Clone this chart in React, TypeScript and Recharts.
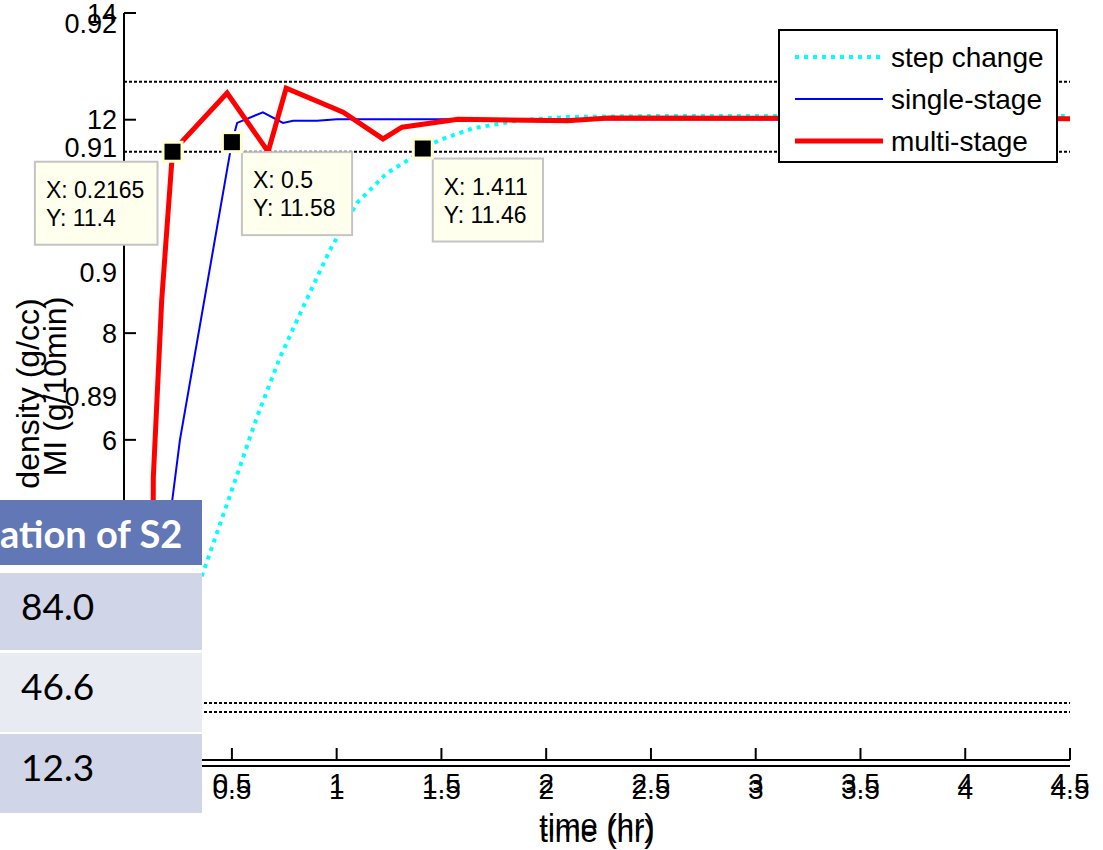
import React from "react";
import { LineChart, Line, XAxis, YAxis, ReferenceLine, ReferenceDot, Legend, Label } from "recharts";

// ---- values (time in hr, MI in g/10min) ----
const xTicks = [0, 0.5, 1, 1.5, 2, 2.5, 3, 3.5, 4, 4.5];
const miTicksLeft = [6, 8, 12, 14];
const miTicksFrame = [0, 2, 4, 6, 8, 10, 12, 14];
const densityTicks = [0.89, 0.9, 0.91, 0.92];

const stepTime = [0, 0.1, 0.25, 0.372, 0.505, 0.62, 0.73, 0.84, 0.968, 1.097, 1.24, 1.364, 1.411, 1.493, 1.651, 1.875, 2.1, 2.496, 4.5];
const stepMI = [1, 1, 2.3, 3.62, 5.12, 6.43, 7.55, 8.49, 9.56, 10.44, 11.0, 11.3, 11.46, 11.62, 11.84, 11.99, 12.05, 12.07, 12.07];

const singleTime = [0, 0.09, 0.252, 0.5, 0.525, 0.648, 0.744, 0.792, 0.906, 1.002, 4.5];
const singleMI = [1, 1, 6.0, 11.58, 11.94, 12.14, 11.94, 11.98, 11.98, 12.01, 12.0];

const multiTime = [0, 0.12, 0.125, 0.165, 0.2165, 0.477, 0.673, 0.759, 1.031, 1.221, 1.312, 1.579, 2.1, 2.3, 4.5];
const multiMI = [1, 1, 5.3, 8.62, 11.4, 12.5, 11.4, 12.59, 12.14, 11.64, 11.86, 12.01, 11.98, 12.03, 12.02];

// dotted spec limits (MI)
const specLimits = [12.71, 11.4, 1.07, 0.9];

// data tips
const tipTime = [0.2165, 0.5, 1.411];
const tipMI = [11.4, 11.58, 11.46];

const seriesNames = ["step change", "single-stage", "multi-stage"];

const xTitle = "time (hr)";
const miTitle = "MI (g/10min)";
const densityTitle = "density (g/cc)";

// the pasted table fragment on the left
const tableHeader = "ation of S2";
const tableValues = ["84.0", "46.6", "12.3"];

// ---- layout ----
const W = 1103;
const H = 850;
const DEN_W = 44;
const MI_W = 80;
const X_GAP = 13;
const Y_GAP = 7;
const FONT = "'Liberation Sans', Arial, Helvetica, sans-serif";
const axisStroke = { stroke: "#000", strokeWidth: 2 };

const toPoints = (xs: number[], ys: number[]) => xs.map((x, i) => ({ x, y: ys[i] }));
const stepData = toPoints(stepTime, stepMI);
const singleData = toPoints(singleTime, singleMI);
const multiData = toPoints(multiTime, multiMI);

const seriesStyle = [
  { stroke: "#00ffff", strokeWidth: 4, dash: "4 5" },
  { stroke: "#0000ff", strokeWidth: 2, dash: undefined },
  { stroke: "#ff0000", strokeWidth: 5, dash: undefined },
];
const tipSide = ["left", "right", "right"];

type TickProps = { x?: number; y?: number; payload?: { value: number } };

const bottomTick = (withLine: boolean) => ({ x = 0, y = 0, payload }: TickProps) => (
  <g>
    {withLine && (
      <line x1={x} x2={x} y1={y - X_GAP} y2={y - X_GAP - 12} stroke="#000" strokeWidth={2} />
    )}
    <text x={x} y={y} dy="0.71em" textAnchor="middle" fontSize={28} fontFamily={FONT} fill="#000">
      {payload?.value}
    </text>
  </g>
);

const topTick = ({ x = 0, y = 0 }: TickProps) => (
  <line x1={x} x2={x} y1={y} y2={y + 9} stroke="#000" strokeWidth={2} />
);

const rightTick = ({ x = 0, y = 0 }: TickProps) => (
  <line x1={x} x2={x - 10} y1={y} y2={y} stroke="#000" strokeWidth={2} />
);

const leftTick = (shift: number, withLine: boolean) => ({ x = 0, y = 0, payload }: TickProps) => (
  <g>
    {withLine && (
      <line x1={x + shift + Y_GAP} x2={x + shift + Y_GAP + 12} y1={y} y2={y} stroke="#000" strokeWidth={2} />
    )}
    <text x={x + shift} y={y} dy="0.36em" textAnchor="end" fontSize={27} fontFamily={FONT} fill="#000">
      {payload?.value}
    </text>
  </g>
);

const timeLabel = (props: any) => {
  const vb = props.viewBox;
  return (
    <text x={vb.x + vb.width / 2} y={vb.y + 76} textAnchor="middle" fontSize={31} fontFamily={FONT} fill="#000">
      {xTitle}
    </text>
  );
};

const sideLabel = (text: string, dx: number, dy: number) => (props: any) => {
  const vb = props.viewBox;
  const cx = vb.x + dx;
  const cy = vb.y + vb.height / 2 + dy;
  return (
    <text x={cx} y={cy} transform={`rotate(-90 ${cx} ${cy})`} textAnchor="middle" fontSize={32} fontFamily={FONT} fill="#000">
      {text}
    </text>
  );
};

const DataTip = ({ cx = 0, cy = 0, idx }: { cx?: number; cy?: number; idx: number }) => {
  const lines = [`X: ${tipTime[idx]}`, `Y: ${tipMI[idx]}`];
  const w = Math.max(...lines.map((l) => l.length)) * 12.4 + 11;
  const bx = tipSide[idx] === "left" ? cx - 15 - w : cx + 10;
  const by = cy + 10;
  return (
    <g>
      <rect x={bx} y={by} width={w} height={83} fill="#ffffee" stroke="#c4c4c4" strokeWidth={2} />
      <text x={bx + 11} y={by + 36} fontSize={23} fontFamily={FONT} fill="#000">{lines[0]}</text>
      <text x={bx + 11} y={by + 64} fontSize={23} fontFamily={FONT} fill="#000">{lines[1]}</text>
      <rect x={cx - 11} y={cy - 11} width={22} height={22} fill="#ffffd2" />
      <rect x={cx - 8} y={cy - 8} width={16} height={16} fill="#000" />
    </g>
  );
};

const renderLegend = () => (
  <div style={{ width: 280, height: 134, boxSizing: "border-box", border: "2px solid #000", background: "#fff" }}>
    <svg width={276} height={130} style={{ display: "block" }}>
      {seriesNames.map((name, i) => (
        <g key={name}>
          <line
            x1={15}
            x2={103}
            y1={26 + 42 * i}
            y2={26 + 42 * i}
            stroke={seriesStyle[i].stroke}
            strokeWidth={seriesStyle[i].strokeWidth}
            strokeDasharray={seriesStyle[i].dash}
          />
          <text x={111} y={26 + 42 * i} dy="0.36em" fontSize={28} fontFamily={FONT} fill="#000">
            {name}
          </text>
        </g>
      ))}
    </svg>
  </div>
);

const rowBg = ["#d0d5e7", "#e9ebf3", "#d0d5e7"];
const rowH = [77, 79, 79];
const rowGap = [8, 3, 2];

export default function App() {
  return (
    <div style={{ position: "absolute", left: 0, top: 0, width: W, height: H, background: "#fff", overflow: "hidden", fontFamily: FONT }}>
      <LineChart width={W} height={H} margin={{ top: 13, right: 33, bottom: 0, left: 0 }}>
        <XAxis
          xAxisId="a"
          type="number"
          dataKey="x"
          domain={[-0.015, 4.5]}
          allowDataOverflow
          ticks={xTicks}
          height={6}
          tickSize={0}
          tickMargin={X_GAP}
          tickLine={false}
          axisLine={axisStroke}
          tick={bottomTick(true)}
        >
          <Label content={timeLabel} />
        </XAxis>
        <XAxis
          xAxisId="b"
          type="number"
          dataKey="x"
          domain={[-0.015, 4.5]}
          allowDataOverflow
          ticks={xTicks}
          height={84}
          tickSize={0}
          tickMargin={X_GAP}
          tickLine={false}
          axisLine={axisStroke}
          tick={bottomTick(false)}
        >
          <Label content={timeLabel} />
        </XAxis>
        <XAxis
          xAxisId="top"
          orientation="top"
          type="number"
          dataKey="x"
          domain={[-0.015, 4.5]}
          allowDataOverflow
          ticks={xTicks}
          height={0}
          tickSize={0}
          tickMargin={0}
          tickLine={false}
          axisLine={axisStroke}
          tick={topTick}
        />
        <YAxis
          yAxisId="l1"
          type="number"
          domain={[0, 14]}
          allowDataOverflow
          ticks={miTicksLeft}
          width={MI_W}
          tickSize={0}
          tickMargin={Y_GAP}
          tickLine={false}
          axisLine={axisStroke}
          tick={leftTick(0, true)}
        >
          <Label content={sideLabel(miTitle, 21.5, 0)} />
        </YAxis>
        <YAxis
          yAxisId="l2"
          type="number"
          domain={[0.8607, 0.92085]}
          allowDataOverflow
          ticks={densityTicks}
          width={DEN_W}
          tickSize={0}
          tickMargin={Y_GAP}
          tickLine={false}
          axisLine={false}
          tick={leftTick(MI_W, false)}
        >
          <Label content={sideLabel(densityTitle, 38.5, 7)} />
        </YAxis>
        <YAxis
          yAxisId="r1"
          orientation="right"
          type="number"
          domain={[0, 14]}
          allowDataOverflow
          ticks={miTicksFrame}
          width={0}
          tickSize={0}
          tickMargin={0}
          tickLine={false}
          axisLine={axisStroke}
          tick={rightTick}
        />
        {specLimits.map((v) => (
          <ReferenceLine
            key={v}
            xAxisId="a"
            yAxisId="l1"
            y={v}
            stroke="#000"
            strokeWidth={2}
            strokeDasharray="3 2"
          />
        ))}
        {[stepData, singleData, multiData].map((d, i) => (
          <Line
            key={seriesNames[i]}
            xAxisId="a"
            yAxisId="l1"
            data={d}
            dataKey="y"
            name={seriesNames[i]}
            type="linear"
            stroke={seriesStyle[i].stroke}
            strokeWidth={seriesStyle[i].strokeWidth}
            strokeDasharray={seriesStyle[i].dash}
            dot={false}
            activeDot={false}
            isAnimationActive={false}
          />
        ))}
        {tipTime.map((t, i) => (
          <ReferenceDot
            key={t}
            xAxisId="a"
            yAxisId="l1"
            x={t}
            y={tipMI[i]}
            r={10}
            shape={(p: any) => <DataTip cx={p.cx} cy={p.cy} idx={i} />}
          />
        ))}
        <Legend
          layout="horizontal"
          verticalAlign="middle"
          align="center"
          content={renderLegend}
          wrapperStyle={{ left: 778, top: 29, width: 280, height: 134 }}
        />
      </LineChart>

      <div style={{ position: "absolute", left: 0, top: 500, width: 202, height: 313, background: "#fff", fontFamily: "Lato, 'Noto Sans', sans-serif" }}>
        <div
          style={{
            height: 65,
            boxSizing: "border-box",
            background: "#6277b5",
            color: "#fff",
            fontWeight: 700,
            fontSize: 38,
            lineHeight: "normal",
            paddingTop: 10,
            paddingRight: 20,
            textAlign: "right",
            whiteSpace: "nowrap",
            overflow: "hidden",
          }}
        >
          {tableHeader}
        </div>
        {tableValues.map((v, i) => (
          <div
            key={v}
            style={{
              marginTop: rowGap[i],
              height: rowH[i],
              boxSizing: "border-box",
              background: rowBg[i],
              color: "#000",
              fontSize: 37,
              lineHeight: "normal",
              paddingTop: 10,
              paddingLeft: 21,
            }}
          >
            {v}
          </div>
        ))}
      </div>
    </div>
  );
}
